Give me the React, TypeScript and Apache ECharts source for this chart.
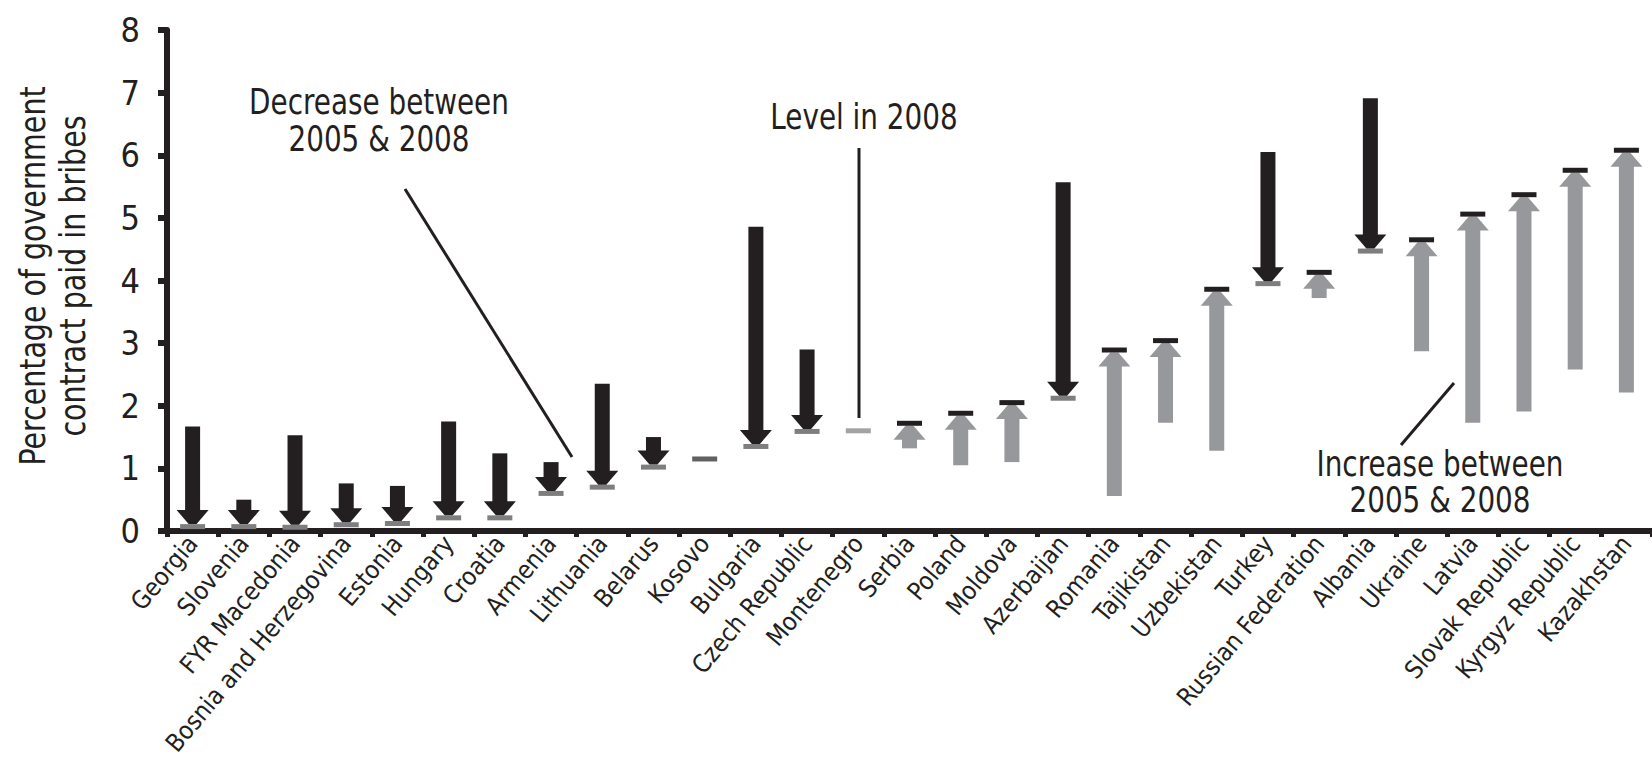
import React, { useEffect, useRef } from 'react';
import * as echarts from 'echarts';

const countries = [
  'Georgia', 'Slovenia', 'FYR Macedonia', 'Bosnia and Herzegovina', 'Estonia', 'Hungary', 'Croatia',
  'Armenia', 'Lithuania', 'Belarus', 'Kosovo', 'Bulgaria', 'Czech Republic', 'Montenegro', 'Serbia',
  'Poland', 'Moldova', 'Azerbaijan', 'Romania', 'Tajikistan', 'Uzbekistan', 'Turkey',
  'Russian Federation', 'Albania', 'Ukraine', 'Latvia', 'Slovak Republic', 'Kyrgyz Republic', 'Kazakhstan',
];
// Percentage of contract value paid in bribes, 2005 (null = no 2005 data)
const value2005: (number | null)[] = [
  1.67, 0.5, 1.53, 0.76, 0.72, 1.75, 1.24,
  1.1, 2.35, 1.5, null, 4.86, 2.9, null, 1.32,
  1.05, 1.1, 5.57, 0.56, 1.73, 1.28, 6.05,
  3.72, 6.91, 2.87, 1.73, 1.91, 2.58, 2.21,
];
// Level in 2008
const value2008: number[] = [
  0.07, 0.07, 0.06, 0.1, 0.12, 0.21, 0.21,
  0.6, 0.7, 1.02, 1.15, 1.35, 1.59, 1.6, 1.72,
  1.88, 2.05, 2.12, 2.89, 3.04, 3.86, 3.95,
  4.13, 4.47, 4.65, 5.06, 5.37, 5.76, 6.08,
];
const yMin = 0;
const yMax = 8;
const yInterval = 1;

const FONT = "'Liberation Sans Narrow', 'Arial Narrow', 'DejaVu Sans Condensed', 'Liberation Sans', Arial, sans-serif";
const INK = '#231F20';
const GREY = '#97989C';
const MARK_GREY = '#7E7E80';

export default function App() {
  const ref = useRef<HTMLDivElement>(null);
  useEffect(() => {
    document.body.style.margin = '0';
    document.body.style.overflow = 'hidden';
    if (!ref.current) return;
    const chart = echarts.init(ref.current, undefined, { renderer: 'svg' });

    const arrowData = countries
      .map((c, i) => [i, value2005[i], value2008[i]])
      .filter((d) => d[1] !== null);
    const levelData = countries
      .map((c, i) => ({ i, v05: value2005[i], v08: value2008[i], c }))
      .filter((d) => d.v05 === null)
      .map((d) => ({
        value: [d.i, d.v08],
        itemStyle: { color: d.c === 'Kosovo' ? '#3A3A3C' : '#8C8C8E' },
      }));

    const textEl = (text: string, x: number, y: number, lineHeight: number, extra: any = {}) => ({
      type: 'text',
      x,
      y,
      scaleX: 0.86,
      ...extra,
      style: {
        text,
        fontSize: 36,
        fontFamily: FONT,
        fill: INK,
        align: 'center',
        verticalAlign: 'middle',
        lineHeight,
      },
    });

    chart.setOption({
      animation: false,
      backgroundColor: '#ffffff',
      grid: { left: 167, right: 0, top: 30, bottom: 236, containLabel: false, outerBoundsMode: 'none' },
      xAxis: {
        type: 'category',
        data: countries,
        axisLine: { show: true, lineStyle: { color: INK, width: 6 } },
        axisTick: { show: true, length: 6, lineStyle: { color: INK, width: 5 } },
        axisLabel: {
          rotate: 50,
          interval: 0,
          margin: 8,
          fontSize: 25,
          fontFamily: FONT,
          color: INK,
        },
        splitLine: { show: false },
      },
      yAxis: {
        type: 'value',
        min: yMin,
        max: yMax,
        interval: yInterval,
        axisLine: { show: true, lineStyle: { color: INK, width: 6 } },
        axisTick: { show: true, length: 9, lineStyle: { color: INK, width: 6 } },
        axisLabel: { margin: 27, fontSize: 34, fontFamily: FONT, color: INK },
        splitLine: { show: false },
      },
      series: [
        {
          type: 'custom',
          data: arrowData,
          encode: { x: 0, y: [1, 2] },
          renderItem: (params: any, api: any) => {
            const idx = api.value(0);
            const v05 = api.value(1);
            const v08 = api.value(2);
            const cx = api.coord([idx, 0])[0];
            const y05 = api.coord([idx, v05])[1];
            const y08 = api.coord([idx, v08])[1];
            const shaftW = 15;
            const headW = 32;
            const headH = 14;
            const tipW = 8;
            const markW = 25;
            const markH = 5;
            const children: any[] = [];
            if (v05 > v08) {
              const tipY = y08 - markH / 2;
              const baseY = tipY - headH;
              children.push({
                type: 'rect',
                shape: { x: cx - markW / 2, y: y08 - markH / 2, width: markW, height: markH },
                style: { fill: MARK_GREY },
              });
              children.push({
                type: 'rect',
                shape: { x: cx - shaftW / 2, y: y05, width: shaftW, height: Math.max(0, baseY - y05 + 1) },
                style: { fill: INK },
              });
              children.push({
                type: 'polygon',
                shape: {
                  points: [
                    [cx - headW / 2, baseY],
                    [cx + headW / 2, baseY],
                    [cx + tipW / 2, tipY],
                    [cx - tipW / 2, tipY],
                  ],
                },
                style: { fill: INK },
              });
            } else {
              const tipY = y08 + markH / 2;
              const baseY = tipY + headH;
              children.push({
                type: 'rect',
                shape: { x: cx - shaftW / 2, y: baseY - 1, width: shaftW, height: Math.max(0, y05 - baseY + 1) },
                style: { fill: GREY },
              });
              children.push({
                type: 'polygon',
                shape: {
                  points: [
                    [cx - tipW / 2, tipY],
                    [cx + tipW / 2, tipY],
                    [cx + headW / 2, baseY],
                    [cx - headW / 2, baseY],
                  ],
                },
                style: { fill: GREY },
              });
              children.push({
                type: 'rect',
                shape: { x: cx - markW / 2, y: y08 - markH / 2, width: markW, height: markH },
                style: { fill: INK },
              });
            }
            return { type: 'group', children };
          },
          z: 3,
        },
        {
          type: 'scatter',
          data: levelData,
          symbol: 'rect',
          symbolSize: [25, 5],
          z: 3,
        },
      ],
      graphic: [
        textEl('Percentage of government\ncontract paid in bribes', 53, 276, 40, { rotation: Math.PI / 2, scaleX: 0.88 }),
        textEl('Decrease between\n2005 & 2008', 379, 120, 37),
        textEl('Level in 2008', 864, 117, 37),
        textEl('Increase between\n2005 & 2008', 1440, 482, 36),
        {
          type: 'line',
          shape: { x1: 405, y1: 189, x2: 572, y2: 457 },
          style: { stroke: INK, lineWidth: 3 },
        },
        {
          type: 'line',
          shape: { x1: 859, y1: 148, x2: 859, y2: 418 },
          style: { stroke: INK, lineWidth: 3 },
        },
        {
          type: 'line',
          shape: { x1: 1454, y1: 383, x2: 1401, y2: 445 },
          style: { stroke: INK, lineWidth: 3 },
        },
      ],
    });
    return () => chart.dispose();
  }, []);
  return <div ref={ref} style={{ width: 1652, height: 767 }} />;
}
